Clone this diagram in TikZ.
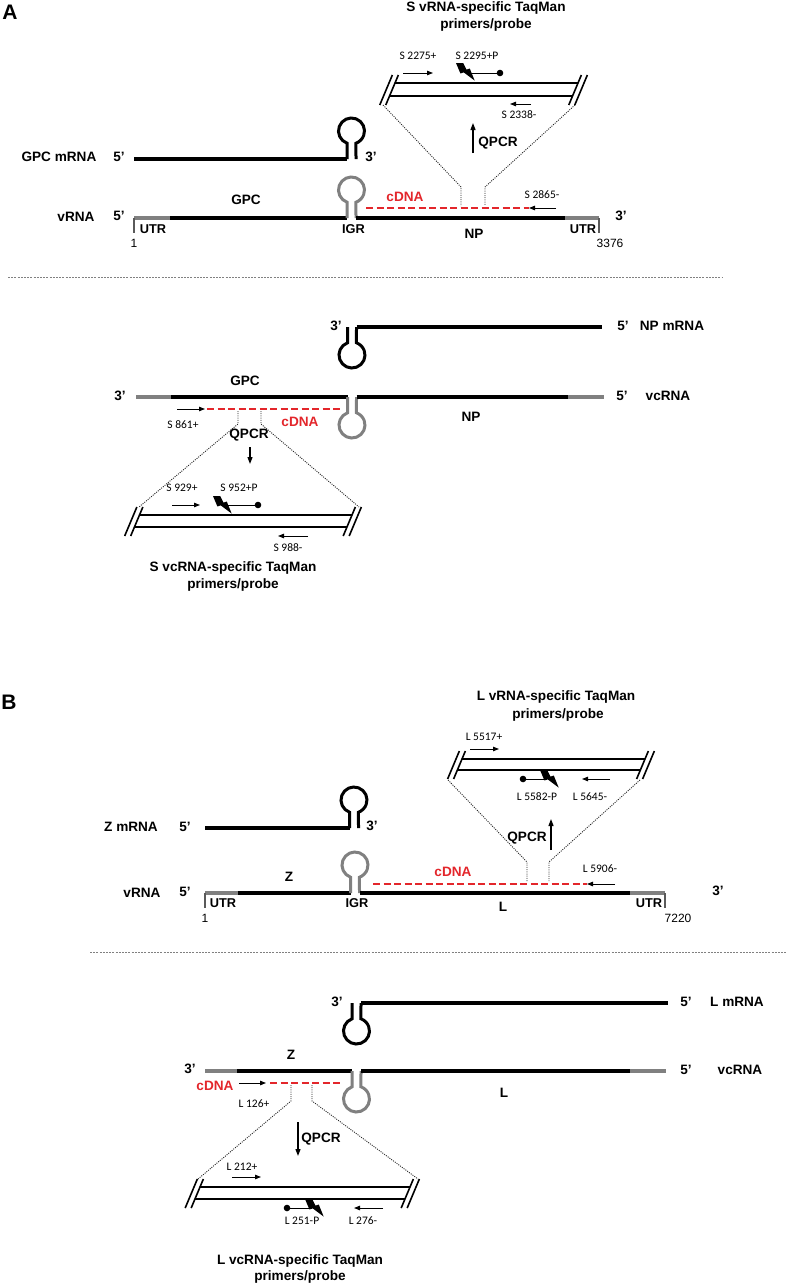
\documentclass[tikz,border=0pt]{standalone}
\usepackage{fontspec}
\setmainfont{Liberation Sans}
\newfontfamily\calfont{Carlito}
\usetikzlibrary{arrows.meta}
\definecolor{utrgray}{HTML}{808080}
\definecolor{cdnared}{HTML}{E3262B}
\tikzset{
 lab/.style={font=\bfseries\fontsize{13.6}{15}\selectfont, inner sep=0pt},
 lsm/.style={font=\bfseries\fontsize{12.8}{15}\selectfont, inner sep=0pt},
 num/.style={font=\fontsize{12}{14}\selectfont, inner sep=0pt},
 pr/.style={font=\calfont\fontsize{11.5}{13}\selectfont, inner sep=0pt},
 ttl/.style={font=\bfseries\fontsize{13.6}{15}\selectfont, inner sep=0pt},
 big/.style={font=\bfseries\fontsize{21}{24}\selectfont, inner sep=0pt},
 cdnalab/.style={lab, text=cdnared},
 gen/.style={line width=3.5pt},
 blk/.style={gen, draw=black},
 gry/.style={gen, draw=utrgray},
 hp/.style={line width=3pt},
 ampl/.style={line width=2.2pt},
 brk/.style={line width=1.6pt},
 funnel/.style={line width=0.9pt, draw=black!85, dash pattern=on 1pt off 1.2pt},
 cdna/.style={line width=2pt, draw=cdnared, dash pattern=on 7pt off 3.5pt},
 prim/.style={line width=1pt, -{Triangle[length=6pt,width=4.5pt]}},
 probe/.style={line width=1pt},
 qarr/.style={line width=1.2pt, -{Triangle[length=7pt,width=5pt]}},
 tickln/.style={line width=1.1pt, draw=utrgray!70!black},
 sepln/.style={line width=0.6pt, draw=gray, dash pattern=on 2pt off 1.2pt},
}
\newcommand\boltat[2]{\fill[shift={(#1,#2)},scale=1.1] (0,0) -- (6.5,0) -- (9.5,6) -- (12.5,5) -- (17,16) -- (7,8.5) -- (4,9.5) -- cycle;}
\newcommand\hpup[3]{\draw[hp,draw=#3] ({#1-4.5},{#2}) -- ({#1-4.5},{#2-15.8}) arc[start angle=110.2,end angle=429.8,radius=13] -- ({#1+4.5},{#2});}
\newcommand\hpdown[3]{\draw[hp,draw=#3] ({#1-4.5},{#2}) -- ({#1-4.5},{#2+15.8}) arc[start angle=249.8,end angle=-69.8,radius=13] -- ({#1+4.5},{#2});}
\newcommand\amplicon[4]{%
 \draw[ampl] (#1,#3) -- (#2,#3);
 \draw[ampl] ({#1-0.42*(#4-#3)},#4) -- ({#2-0.42*(#4-#3)},#4);
 \foreach \xx in {#1,#1-6,#2,#2+6}{\draw[brk] ({\xx+0.42*8},{#3-8}) -- ({\xx-0.42*(#4-#3+9)},{#4+9});}%
}
\begin{document}
\begin{tikzpicture}[x=1pt,y=-1pt]
\useasboundingbox (0,0) rectangle (787,1285);

% ================= Panel A =================
\node[big] (A) at (10,12) {A};
% --- top amplicon
\node[ttl] (tA1) at (486,8) {S vRNA-specific TaqMan};
\node[ttl] (tA2) at (486,25) {primers/probe};
\node[pr] (p2275) at (418,56) {S 2275+};
\node[pr] (p2295) at (477,56) {S 2295+P};
\coordinate (a1s) at (403,73); \coordinate (a1e) at (433,73);
\draw[prim] (a1s) -- (a1e);
\boltat{456}{63}
\coordinate (pbA1) at (469,73); \coordinate (dotA1) at (500,73);
\draw[probe] (pbA1) -- (dotA1); \fill (dotA1) circle[radius=3.3];
\amplicon{395}{578}{83}{96}
\coordinate (a2s) at (531,104); \coordinate (a2e) at (510,104);
\draw[prim] (a2s) -- (a2e);
\node[pr] (p2338) at (519,115) {S 2338-};
\draw[funnel] (383,105) -- (461,187) -- (461,206);
\draw[funnel] (575,105) -- (485,187) -- (485,206);
\coordinate (qA1s) at (473,153); \coordinate (qA1e) at (473,123);
\draw[qarr] (qA1s) -- (qA1e);
\node[lab] (qA1) at (498,143) {QPCR};
% --- GPC mRNA
\node[lab] (gpcm) at (59,157) {GPC mRNA};
\node[lab] (g5) at (119,157) {5’};
\draw[blk] (134,159) -- (347,159);
\hpup{351.5}{159}{black}
\node[lab] (g3) at (371,157) {3’};
% --- vRNA
\node[lab] (vrA) at (76,217) {vRNA};
\node[lab] (vA5) at (119,216) {5’};
\draw[gry] (134,218) -- (170,218);
\draw[blk] (170,218) -- (347,218);
\hpup{351.5}{218}{utrgray}
\draw[blk] (356,218) -- (565,218);
\draw[gry] (565,218) -- (599,218);
\draw[tickln] (134,218) -- (134,233);
\draw[tickln] (599,218) -- (599,233);
\node[lsm] (uA1) at (153,229) {UTR};
\node[num] (nA1) at (134,243) {1};
\node[lab] (gpcA) at (246,200) {GPC};
\node[lsm] (igrA) at (353.5,229) {IGR};
\node[lab] (npA) at (474,234) {NP};
\node[lsm] (uA2) at (583,229) {UTR};
\node[num] (nA2) at (610,243) {3376};
\node[lab] (vA3) at (621,216) {3’};
\draw[cdna] (366,208) -- (529,208);
\coordinate (a3s) at (556,208); \coordinate (a3e) at (529,208);
\draw[prim] (a3s) -- (a3e);
\node[pr] (p2865) at (542,195) {S 2865-};
\node[cdnalab] (cA1) at (405,197) {cDNA};
% separator
\draw[sepln] (8,277) -- (722,277);
% --- NP mRNA
\node[lab] (npm3) at (336,326) {3’};
\hpdown{352}{327}{black}
\draw[blk] (356.5,327) -- (602,327);
\node[lab] (npm5) at (623,326) {5’};
\node[lab] (npm) at (672,326) {NP mRNA};
% --- vcRNA
\node[lab] (vcA3) at (120,396) {3’};
\draw[gry] (136,397) -- (171,397);
\draw[blk] (171,397) -- (347.5,397);
\hpdown{352}{397}{utrgray}
\draw[blk] (356.5,397) -- (568,397);
\draw[gry] (568,397) -- (604,397);
\node[lab] (vcA5) at (622,396) {5’};
\node[lab] (vcA) at (668,396) {vcRNA};
\node[lab] (gpcA2) at (245,381) {GPC};
\node[lab] (npA2) at (471,417) {NP};
\draw[cdna] (207,409) -- (343,409);
\coordinate (a4s) at (177,409); \coordinate (a4e) at (205,409);
\draw[prim] (a4s) -- (a4e);
\node[pr] (p861) at (183,425) {S 861+};
\node[cdnalab] (cA2) at (300,422) {cDNA};
\draw[funnel] (238,411) -- (238,424) -- (139,507);
\draw[funnel] (261,411) -- (261,424) -- (359,507);
\node[lab] (qA2) at (249,435) {QPCR};
\coordinate (qA2s) at (250,447); \coordinate (qA2e) at (250,464);
\draw[qarr] (qA2s) -- (qA2e);
% --- bottom amplicon
\node[pr] (p929) at (182,488) {S 929+};
\node[pr] (p952) at (239,488) {S 952+P};
\coordinate (a5s) at (172,505); \coordinate (a5e) at (200,505);
\draw[prim] (a5s) -- (a5e);
\boltat{213}{496}
\coordinate (pbA2) at (226,505); \coordinate (dotA2) at (258,505);
\draw[probe] (pbA2) -- (dotA2); \fill (dotA2) circle[radius=3.3];
\amplicon{139.5}{352}{515}{527}
\coordinate (a6s) at (308,536); \coordinate (a6e) at (278,536);
\draw[prim] (a6s) -- (a6e);
\node[pr] (p988) at (288,548) {S 988-};
\node[ttl] (tA3) at (233,568) {S vcRNA-specific TaqMan};
\node[ttl] (tA4) at (233,585) {primers/probe};

% ================= Panel B =================
\node[big] (B) at (9,702) {B};
\node[ttl] (tB1) at (556,697) {L vRNA-specific TaqMan};
\node[ttl] (tB2) at (558,715) {primers/probe};
\node[pr] (p5517) at (484,737) {L 5517+};
\coordinate (b1s) at (470,749); \coordinate (b1e) at (499,749);
\draw[prim] (b1s) -- (b1e);
\amplicon{462}{645}{759}{770}
\coordinate (dotB1) at (523,779); \coordinate (pbB1) at (547,779);
\draw[probe] (dotB1) -- (pbB1); \fill (dotB1) circle[radius=3.3];
\boltat{540}{770}
\coordinate (b2s) at (610,779); \coordinate (b2e) at (582,779);
\draw[prim] (b2s) -- (b2e);
\node[pr] (p5582) at (537,797) {L 5582-P};
\node[pr] (p5645) at (590,797) {L 5645-};
\draw[funnel] (448,780) -- (527,862) -- (527,881);
\draw[funnel] (640,780) -- (549,862) -- (549,881);
\node[lab] (qB1) at (527,838) {QPCR};
\coordinate (qB1s) at (551,850); \coordinate (qB1e) at (551,819);
\draw[qarr] (qB1s) -- (qB1e);
% --- Z mRNA
\node[lab] (zm) at (131,827) {Z mRNA};
\node[lab] (zm5) at (185,827) {5’};
\draw[blk] (205,828) -- (349.5,828);
\hpup{354}{828}{black}
\node[lab] (zm3) at (372,826) {3’};
% --- vRNA
\node[lab] (vrB) at (142,893) {vRNA};
\node[lab] (vB5) at (185,892) {5’};
\draw[gry] (205,893) -- (238,893);
\draw[blk] (238,893) -- (350.5,893);
\hpup{355}{893}{utrgray}
\draw[blk] (359.5,893) -- (630,893);
\draw[gry] (630,893) -- (665,893);
\draw[tickln] (205,893) -- (205,908);
\draw[tickln] (665,893) -- (665,908);
\node[lsm] (uB1) at (223,903) {UTR};
\node[lsm] (igrB) at (357,903) {IGR};
\node[lab] (lB) at (503,907) {L};
\node[lsm] (uB2) at (649,903) {UTR};
\node[num] (nB1) at (205,918) {1};
\node[num] (nB2) at (678,918) {7220};
\node[lab] (zB) at (289,877) {Z};
\node[lab] (vB3) at (718,891) {3’};
\draw[cdna] (373,884) -- (587,884);
\coordinate (b3s) at (615,884); \coordinate (b3e) at (587,884);
\draw[prim] (b3s) -- (b3e);
\node[pr] (p5906) at (600,869) {L 5906-};
\node[cdnalab] (cB1) at (453,872) {cDNA};
% separator
\draw[sepln] (90,952) -- (787,952);
% --- L mRNA
\node[lab] (lm3) at (337,1002) {3’};
\hpdown{356.5}{1003}{black}
\draw[blk] (361,1003) -- (668,1003);
\node[lab] (lm5) at (686,1002) {5’};
\node[lab] (lm) at (737,1002) {L mRNA};
% --- vcRNA
\node[lab] (vcB3) at (190,1069) {3’};
\draw[gry] (205,1071) -- (237,1071);
\draw[blk] (237,1071) -- (352,1071);
\hpdown{356.5}{1071}{utrgray}
\draw[blk] (361,1071) -- (630,1071);
\draw[gry] (630,1071) -- (666,1071);
\node[lab] (vcB5) at (686,1070) {5’};
\node[lab] (vcB) at (740,1070) {vcRNA};
\node[lab] (zB2) at (291,1055) {Z};
\node[lab] (lB2) at (504,1093) {L};
\draw[cdna] (270,1083) -- (343,1083);
\coordinate (b4s) at (239,1083); \coordinate (b4e) at (266,1083);
\draw[prim] (b4s) -- (b4e);
\node[cdnalab] (cB2) at (215,1086) {cDNA};
\node[pr] (p126) at (254,1104) {L 126+};
\draw[funnel] (291,1085) -- (291,1101) -- (198,1179);
\draw[funnel] (312,1085) -- (312,1101) -- (418,1179);
\coordinate (qB2s) at (298,1122); \coordinate (qB2e) at (298,1156);
\draw[qarr] (qB2s) -- (qB2e);
\node[lab] (qB2) at (321,1139) {QPCR};
% --- bottom amplicon
\node[pr] (p212) at (242,1167) {L 212+};
\coordinate (b5s) at (232,1177); \coordinate (b5e) at (261,1177);
\draw[prim] (b5s) -- (b5e);
\amplicon{200}{410}{1187}{1199}
\coordinate (dotB2) at (287,1208); \coordinate (pbB2) at (312,1208);
\draw[probe] (dotB2) -- (pbB2); \fill (dotB2) circle[radius=3.3];
\boltat{305}{1199}
\coordinate (b6s) at (383,1208); \coordinate (b6e) at (354,1208);
\draw[prim] (b6s) -- (b6e);
\node[pr] (p251) at (302,1221) {L 251-P};
\node[pr] (p276) at (363,1221) {L 276-};
\node[ttl] (tB3) at (300,1261) {L vcRNA-specific TaqMan};
\node[ttl] (tB4) at (300,1277) {primers/probe};
\end{tikzpicture}
\end{document}
